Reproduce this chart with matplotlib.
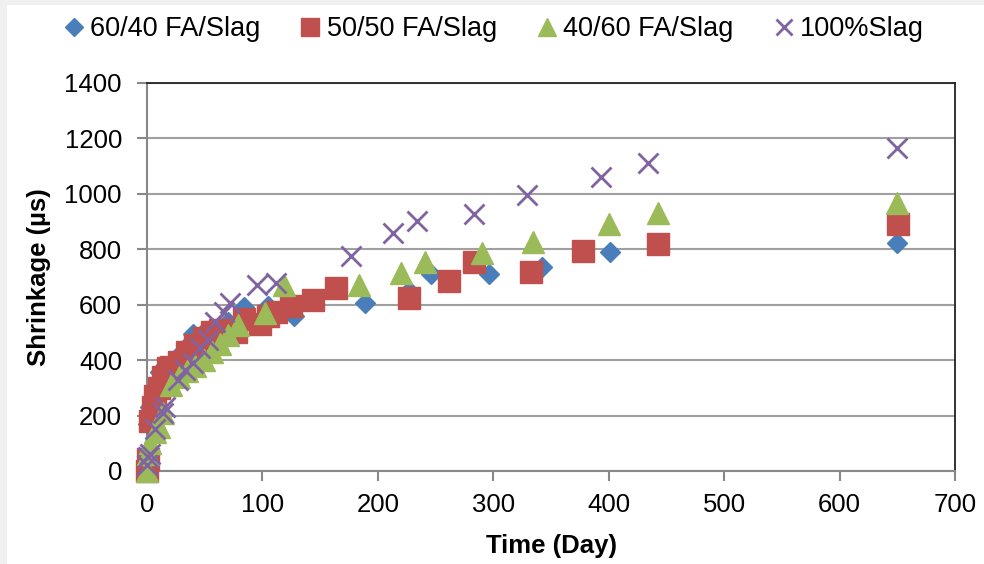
import matplotlib.pyplot as plt
from matplotlib.patches import Rectangle

plt.rcParams['font.family'] = ['Liberation Sans', 'DejaVu Sans']

# 60/40 FA/Slag
dias_6040 = [0, 1, 3, 7, 11, 14, 21, 28, 35, 40, 49, 56, 70, 84, 105, 127, 189, 227, 246, 296, 342, 401, 650]
retr_6040 = [0, 170, 230, 300, 357, 370, 390, 420, 450, 495, 500, 515, 538, 590, 595, 560, 605, 650, 710, 710, 737, 791, 824]

# 50/50 FA/Slag
dias_5050 = [0, 1, 3, 5, 7, 10, 14, 18, 21, 28, 35, 42, 49, 56, 63, 77, 84, 98, 105, 112, 125, 144, 164,
             227, 262, 283, 333, 378, 443, 651]
retr_5050 = [0, 45, 180, 230, 270, 300, 340, 370, 375, 395, 430, 455, 480, 500, 510, 500, 550, 530, 560, 575,
             597, 617, 661, 623, 686, 755, 719, 794, 818, 890]

# 40/60 FA/Slag
dias_4060 = [0, 1, 3, 7, 10, 14, 21, 28, 35, 42, 49, 56, 63, 70, 79, 102, 119, 184, 220, 241, 290, 334, 400, 443, 650]
retr_4060 = [0, 60, 100, 140, 160, 210, 310, 340, 360, 380, 400, 430, 460, 490, 527, 569, 672, 671, 716, 755,
             788, 827, 891, 930, 966]

# 100% Slag
dias_slag = [0, 1, 3, 7, 14, 16, 27, 33, 40, 46, 53, 59, 67, 72, 95, 112, 177, 213, 234, 283, 329, 393, 434, 650]
retr_slag = [20, 50, 60, 150, 210, 232, 328, 364, 389, 443, 473, 539, 575, 605, 671, 677, 776, 858, 902, 926,
             996, 1062, 1113, 1165]

x_ticks = [0, 100, 200, 300, 400, 500, 600, 700]
y_ticks = [0, 200, 400, 600, 800, 1000, 1200, 1400]

fs = 18.5

fig = plt.figure(figsize=(9.84, 5.64), dpi=100)
fig.patch.set_facecolor('#f0f0f0')
fig.patches.append(Rectangle((7 / 984, 0), 1, 1 - 5 / 564, transform=fig.transFigure,
                             facecolor='white', edgecolor='none', zorder=-10))

ax = fig.add_axes([147 / 984, 93 / 564, 808 / 984, 388 / 564])

ax.plot(dias_6040, retr_6040, linestyle='none', marker='D', markersize=10.5, color='#4a7ebb',
        label='60/40 FA/Slag', clip_on=False, zorder=3)
ax.plot(dias_5050, retr_5050, linestyle='none', marker='s', markersize=15.5, color='#c0504d',
        label='50/50 FA/Slag', clip_on=False, zorder=4)
ax.plot(dias_4060, retr_4060, linestyle='none', marker='^', markersize=15.5, color='#9bbb59',
        label='40/60 FA/Slag', clip_on=False, zorder=5)
ax.plot(dias_slag, retr_slag, linestyle='none', marker='x', markersize=14, markeredgewidth=2,
        color='#8064a2', label='100%Slag', clip_on=False, zorder=6)

ax.set_xlim(0, 700)
ax.set_ylim(0, 1400)
ax.set_xticks(x_ticks)
ax.set_yticks(y_ticks)
ax.grid(True, axis='y', color='#a0a0a0', linewidth=1.5, zorder=1)
ax.set_axisbelow(True)

for s in ['left', 'bottom']:
    ax.spines[s].set_color('#888888')
    ax.spines[s].set_linewidth(1.5)
for s in ['top', 'right']:
    ax.spines[s].set_color('#222222')
    ax.spines[s].set_linewidth(1.3)

ax.tick_params(axis='both', direction='out', length=7, width=1.5, color='#888888',
               labelsize=fs, labelcolor='#000000')
ax.tick_params(axis='y', pad=11)
ax.tick_params(axis='x', pad=9)

ax.set_xlabel('Time (Day)', fontsize=fs, fontweight='bold', labelpad=12)
ax.set_ylabel('Shrinkage (µs)', fontsize=fs, fontweight='bold', labelpad=10)

leg = fig.legend(loc='center left', bbox_to_anchor=(60 / 984, 1 - 29 / 564), ncol=4, frameon=False,
                 fontsize=19.5, handletextpad=0.1, columnspacing=1.35, handlelength=1.0,
                 borderaxespad=0, borderpad=0)
for h in leg.legend_handles:
    h.set_markersize(h.get_markersize() * 0.85)

fig.savefig('out.png', dpi=100, facecolor=fig.get_facecolor())
